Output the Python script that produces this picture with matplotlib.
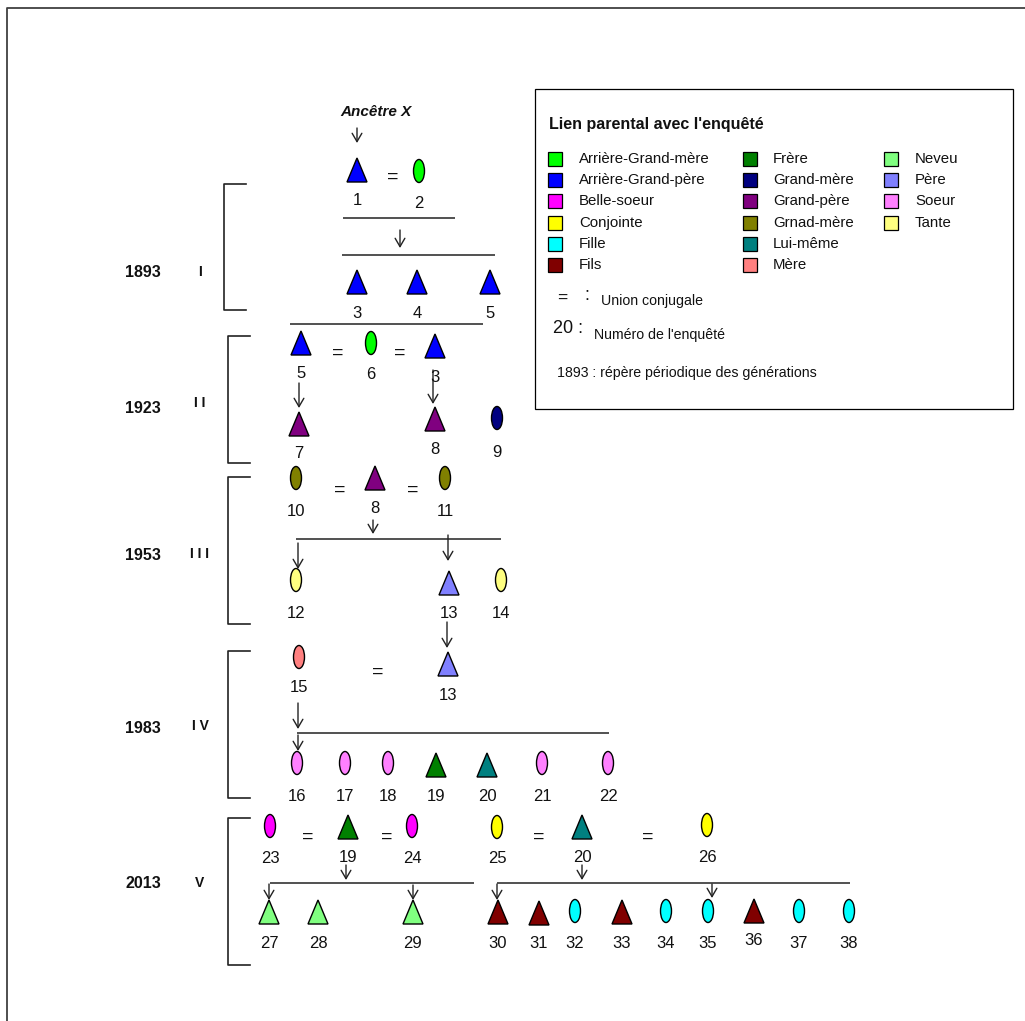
import matplotlib
matplotlib.use("Agg")
import matplotlib.pyplot as plt
from matplotlib.patches import Polygon, Ellipse, Rectangle, FancyArrowPatch

plt.rcParams['font.family'] = ['Liberation Sans', 'DejaVu Sans']

# ---------------- data ----------------
relation_names = ["Arrière-Grand-mère", "Arrière-Grand-père", "Belle-soeur", "Conjointe",
                  "Fille", "Fils", "Frère", "Grand-mère", "Grand-père", "Grnad-mère",
                  "Lui-même", "Mère", "Neveu", "Père", "Soeur", "Tante"]
relation_colors = ["#00FF00", "#0000FF", "#FF00FF", "#FFFF00",
                   "#00FFFF", "#800000", "#008000", "#000080", "#800080", "#808000",
                   "#008080", "#FF8080", "#80FF80", "#8080FF", "#FF80FF", "#FFFF80"]

generation_years = ["1893", "1923", "1953", "1983", "2013"]
generation_numerals = ["I", "I I", "I I I", "I V", "V"]

# person number, relation, shape (T = homme / triangle, E = femme / ellipse)
node_number = [1, 2, 3, 4, 5,
               5, 6, 3, 7, 8, 9,
               10, 8, 11, 12, 13, 14,
               15, 13, 16, 17, 18, 19, 20, 21, 22,
               23, 19, 24, 25, 20, 26, 27, 28, 29,
               30, 31, 32, 33, 34, 35, 36, 37, 38]
node_relation = ["Arrière-Grand-père", "Arrière-Grand-mère", "Arrière-Grand-père", "Arrière-Grand-père", "Arrière-Grand-père",
                 "Arrière-Grand-père", "Arrière-Grand-mère", "Arrière-Grand-père", "Grand-père", "Grand-père", "Grand-mère",
                 "Grnad-mère", "Grand-père", "Grnad-mère", "Tante", "Père", "Tante",
                 "Mère", "Père", "Soeur", "Soeur", "Soeur", "Frère", "Lui-même", "Soeur", "Soeur",
                 "Belle-soeur", "Frère", "Belle-soeur", "Conjointe", "Lui-même", "Conjointe", "Neveu", "Neveu", "Neveu",
                 "Fils", "Fils", "Fille", "Fils", "Fille", "Fille", "Fils", "Fille", "Fille"]
node_shape = ["T", "E", "T", "T", "T",
              "T", "E", "T", "T", "T", "E",
              "E", "T", "E", "E", "T", "E",
              "E", "T", "E", "E", "E", "T", "T", "E", "E",
              "E", "T", "E", "E", "T", "E", "T", "T", "T",
              "T", "T", "E", "T", "E", "E", "T", "E", "E"]

# ---------------- layout (pixel coordinates) ----------------
node_x = [357, 419, 357, 417, 490,
          301, 371, 435, 299, 435, 497,
          296, 375, 445, 296, 449, 501,
          299, 448, 297, 345, 388, 436, 487, 542, 608,
          270, 348, 412, 497, 582, 707, 269, 318, 413,
          498, 539, 575, 622, 666, 708, 754, 799, 849]
node_y = [170, 171, 282, 282, 282,
          343, 343, 346, 424, 419, 418,
          478, 478, 478, 580, 583, 580,
          657, 664, 763, 763, 763, 765, 765, 763, 763,
          826, 827, 826, 827, 827, 825, 912, 912, 912,
          912, 913, 911, 912, 911, 911, 911, 911, 911]
label_y = [200, 203, 313, 313, 313,
           373, 374, 377, 453, 449, 452,
           511, 508, 511, 613, 613, 613,
           687, 695, 796, 796, 796, 796, 796, 796, 796,
           858, 857, 858, 858, 857, 857, 943, 943, 943,
           943, 943, 943, 943, 943, 943, 940, 943, 943]

equal_x = [393, 338, 400, 340, 413, 378, 308, 387, 539, 648]
equal_y = [177, 353, 353, 490, 490, 672, 837, 837, 837, 837]

line_x0 = [343, 342, 290, 296, 297, 270, 497]
line_x1 = [455, 495, 483, 501, 609, 474, 850]
line_y = [218, 255, 324, 539, 733, 883, 883]

arrow_x = [357, 400, 299, 433, 373, 298, 448, 447, 298, 298, 346, 269, 413, 582, 497, 712]
arrow_y0 = [128, 230, 383, 370, 520, 543, 535, 622, 703, 735, 865, 884, 885, 865, 884, 884]
arrow_y1 = [143, 248, 408, 404, 534, 569, 561, 648, 729, 751, 880, 900, 900, 880, 900, 898]

bracket_x = [224, 228, 228, 228, 228]
bracket_top = [184, 336, 477, 651, 818]
bracket_bot = [310, 463, 624, 798, 965]
gen_label_y = [272, 408, 555, 728, 883]
numeral_y = [272, 403, 554, 726, 883]

W, H = 1025, 1021
fig = plt.figure(figsize=(W / 100, H / 100), dpi=100)
ax = fig.add_axes([0, 0, 1, 1])
ax.set_xlim(0, W)
ax.set_ylim(H, 0)
ax.axis('off')

color_of = dict(zip(relation_names, relation_colors))

# outer frame
ax.plot([7, 7, W + 5], [H + 5, 8, 8], color="#404040", lw=1.3)

# nodes
TW, TH = 20, 24
EW, EH = 11, 23
for num, rel, shp, x, y, ly in zip(node_number, node_relation, node_shape, node_x, node_y, label_y):
    c = color_of[rel]
    if shp == "T":
        p = Polygon([(x - TW / 2, y + TH / 2), (x + TW / 2, y + TH / 2), (x, y - TH / 2)],
                    closed=True, facecolor=c, edgecolor="black", lw=1.0)
    else:
        p = Ellipse((x, y), EW, EH, facecolor=c, edgecolor="black", lw=1.0)
    ax.add_patch(p)
    ax.text(x, ly, str(num), ha="center", va="center", fontsize=12, color="#111111")

for x, y in zip(equal_x, equal_y):
    ax.text(x, y, "=", ha="center", va="center", fontsize=14, color="#111111")

for x0, x1, y in zip(line_x0, line_x1, line_y):
    ax.plot([x0, x1], [y, y], color="#222222", lw=1.1, solid_capstyle="butt")

for x, y0, y1 in zip(arrow_x, arrow_y0, arrow_y1):
    a = FancyArrowPatch((x, y0), (x, y1), arrowstyle="->,head_length=6,head_width=3.5",
                        mutation_scale=1, shrinkA=0, shrinkB=0, color="#222222", lw=1.0)
    ax.add_patch(a)

ax.text(376, 112, "Ancêtre X", ha="center", va="center", fontsize=11,
        fontweight="bold", fontstyle="italic", color="#111111")

for bx, bt, bb, yr, ny, gy, num in zip(bracket_x, bracket_top, bracket_bot, generation_years,
                                       numeral_y, gen_label_y, generation_numerals):
    ax.plot([bx + 22, bx, bx, bx + 22], [bt, bt, bb, bb], color="#222222", lw=1.2)
    ax.text(143, gy, yr, ha="center", va="center", fontsize=11.5, fontweight="bold", color="#111111")
    ax.text(200, ny, num, ha="center", va="center", fontsize=10, fontweight="bold", color="#111111")

# legend box
ax.add_patch(Rectangle((535, 89), 1013 - 535, 409 - 89, facecolor="white",
                       edgecolor="black", lw=0.9))
ax.text(549, 125, "Lien parental avec l'enquêté", ha="left", va="center",
        fontsize=11.5, fontweight="bold", color="#111111")
col_sq_x = [548, 743, 884]
col_tx_x = [579, 773, 915]
row_y = [159, 180, 201, 223, 244, 265]
for i, (name, col) in enumerate(zip(relation_names, relation_colors)):
    c = i // 6
    r = i % 6
    ax.add_patch(Rectangle((col_sq_x[c], row_y[r] - 7), 14, 14, facecolor=col,
                           edgecolor="black", lw=0.9))
    ax.text(col_tx_x[c], row_y[r], name, ha="left", va="center", fontsize=10.8, color="#111111")

ax.text(562, 298, "=", ha="center", va="center", fontsize=12.5, color="#111111")
ax.text(587, 295, ":", ha="center", va="center", fontsize=13, color="#111111")
ax.text(601, 301, "Union conjugale", ha="left", va="center", fontsize=10.2, color="#111111")
ax.text(553, 328, "20 :", ha="left", va="center", fontsize=13, color="#111111")
ax.text(594, 335, "Numéro de l'enquêté", ha="left", va="center", fontsize=10.2, color="#111111")
ax.text(557, 373, "1893 : répère périodique des générations", ha="left", va="center",
        fontsize=10.2, color="#111111")

fig.savefig("out.png", dpi=100, facecolor="white")
